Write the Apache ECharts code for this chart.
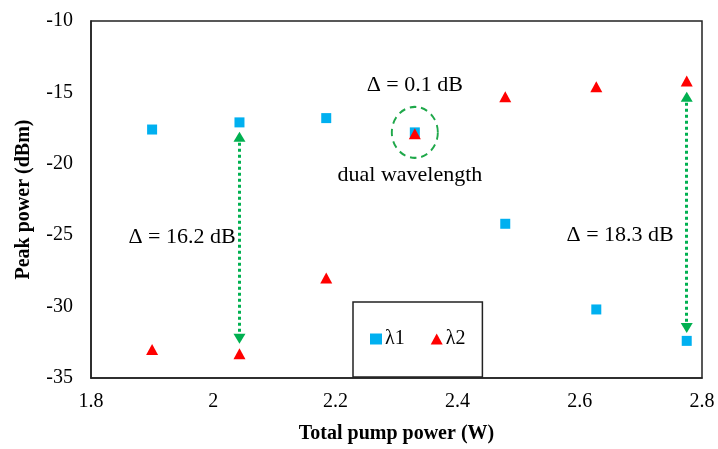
<!DOCTYPE html>
<html>
<head>
<meta charset="utf-8">
<script src="https://cdn.jsdelivr.net/npm/echarts@6/dist/echarts.min.js"></script>
<style>html,body{margin:0;padding:0;background:#fff}#c{width:718px;height:449px}</style>
</head>
<body>
<div id="c"></div>
<script>
var pumpPower = [1.90, 2.043, 2.185, 2.33, 2.478, 2.627, 2.775];
var lambda1 = [-17.6, -17.1, -16.8, -17.8, -24.2, -30.2, -32.4];
var lambda2 = [-33.0, -33.3, -28.0, -17.9, -15.3, -14.6, -14.2];
var seriesNames = ['λ1', 'λ2'];
var xTicks = { min: 1.8, max: 2.8, step: 0.2 };
var yTicks = { min: -35, max: -10, step: 5 };
var dualPoint = [2.33, -17.8];
var arrows = [
  { x: 2.043, from: -18.1, to: -32.25 },
  { x: 2.775, from: -15.3, to: -31.5 }
];
var notes = [
  { x: 1.949, y: -25.15, text: 'Δ = 16.2 dB' },
  { x: 2.33, y: -14.48, text: 'Δ = 0.1 dB' },
  { x: 2.322, y: -20.8, text: 'dual wavelength' },
  { x: 2.666, y: -25.0, text: 'Δ = 18.3 dB' }
];

var FONT = 'Liberation Serif';
function zip(xs, ys) { return xs.map(function (x, i) { return [x, ys[i]]; }); }

var chart = echarts.init(document.getElementById('c'));
chart.setOption({
  animation: false,
  backgroundColor: '#fff',
  textStyle: { fontFamily: FONT, color: '#000' },
  grid: { left: 91, right: 16, top: 21, bottom: 65, show: true, borderColor: '#222', borderWidth: 1.5, backgroundColor: 'transparent' },
  xAxis: {
    type: 'value', min: xTicks.min, max: xTicks.max, interval: xTicks.step,
    name: 'Total pump power (W)', nameLocation: 'middle', nameGap: 46,
    nameTextStyle: { fontFamily: FONT, fontSize: 20, fontWeight: 'bold', color: '#000' },
    axisLine: { show: true, lineStyle: { color: '#222', width: 1.5 } },
    axisTick: { show: false }, splitLine: { show: false },
    axisLabel: { fontFamily: FONT, fontSize: 20, color: '#000', margin: 14 }
  },
  yAxis: {
    type: 'value', min: yTicks.min, max: yTicks.max, interval: yTicks.step,
    name: 'Peak power (dBm)', nameLocation: 'middle', nameGap: 57,
    nameTextStyle: { fontFamily: FONT, fontSize: 20, fontWeight: 'bold', color: '#000' },
    axisLine: { show: true, lineStyle: { color: '#222', width: 1.5 } },
    axisTick: { show: false }, splitLine: { show: false },
    axisLabel: { fontFamily: FONT, fontSize: 20, color: '#000', margin: 18 }
  },
  legend: {
    data: seriesNames,
    left: 353, top: 302,
    padding: [27, 17, 28, 17],
    itemGap: 26, itemWidth: 12, itemHeight: 11,
    borderColor: '#222', borderWidth: 1.5,
    textStyle: { fontFamily: FONT, fontSize: 20, color: '#000', padding: [0, 0, 0, -2] }
  },
  series: [
    {
      name: seriesNames[0], type: 'scatter', symbol: 'rect', symbolSize: 10,
      itemStyle: { color: '#00B0F0', opacity: 1 }, z: 3,
      data: zip(pumpPower, lambda1),
      markLine: {
        silent: true, animation: false,
        symbol: ['triangle', 'triangle'], symbolSize: [12, 10],
        label: { show: false },
        lineStyle: { color: '#00B050', width: 3, type: [3, 3], opacity: 1 },
        emphasis: { disabled: true },
        data: arrows.map(function (a) { return [{ coord: [a.x, a.from] }, { coord: [a.x, a.to] }]; })
      }
    },
    {
      name: seriesNames[1], type: 'scatter', symbol: 'triangle', symbolSize: [12, 11],
      itemStyle: { color: '#FF0000', opacity: 1 }, z: 4,
      data: zip(pumpPower, lambda2)
    },
    {
      name: 'circle', type: 'scatter', symbol: 'circle', symbolSize: [46, 51], silent: true,
      itemStyle: { color: 'transparent', borderColor: '#1FA84A', borderWidth: 2, borderType: [7, 5], opacity: 1 },
      z: 2, data: [dualPoint]
    },
    {
      name: 'notes', type: 'scatter', symbolSize: 0, silent: true,
      itemStyle: { opacity: 1 },
      data: notes.map(function (n) { return { value: [n.x, n.y], label: { formatter: n.text } }; }),
      label: { show: true, position: 'inside', fontFamily: FONT, fontSize: 22, color: '#000', opacity: 1 }
    }
  ]
});
</script>
</body>
</html>
